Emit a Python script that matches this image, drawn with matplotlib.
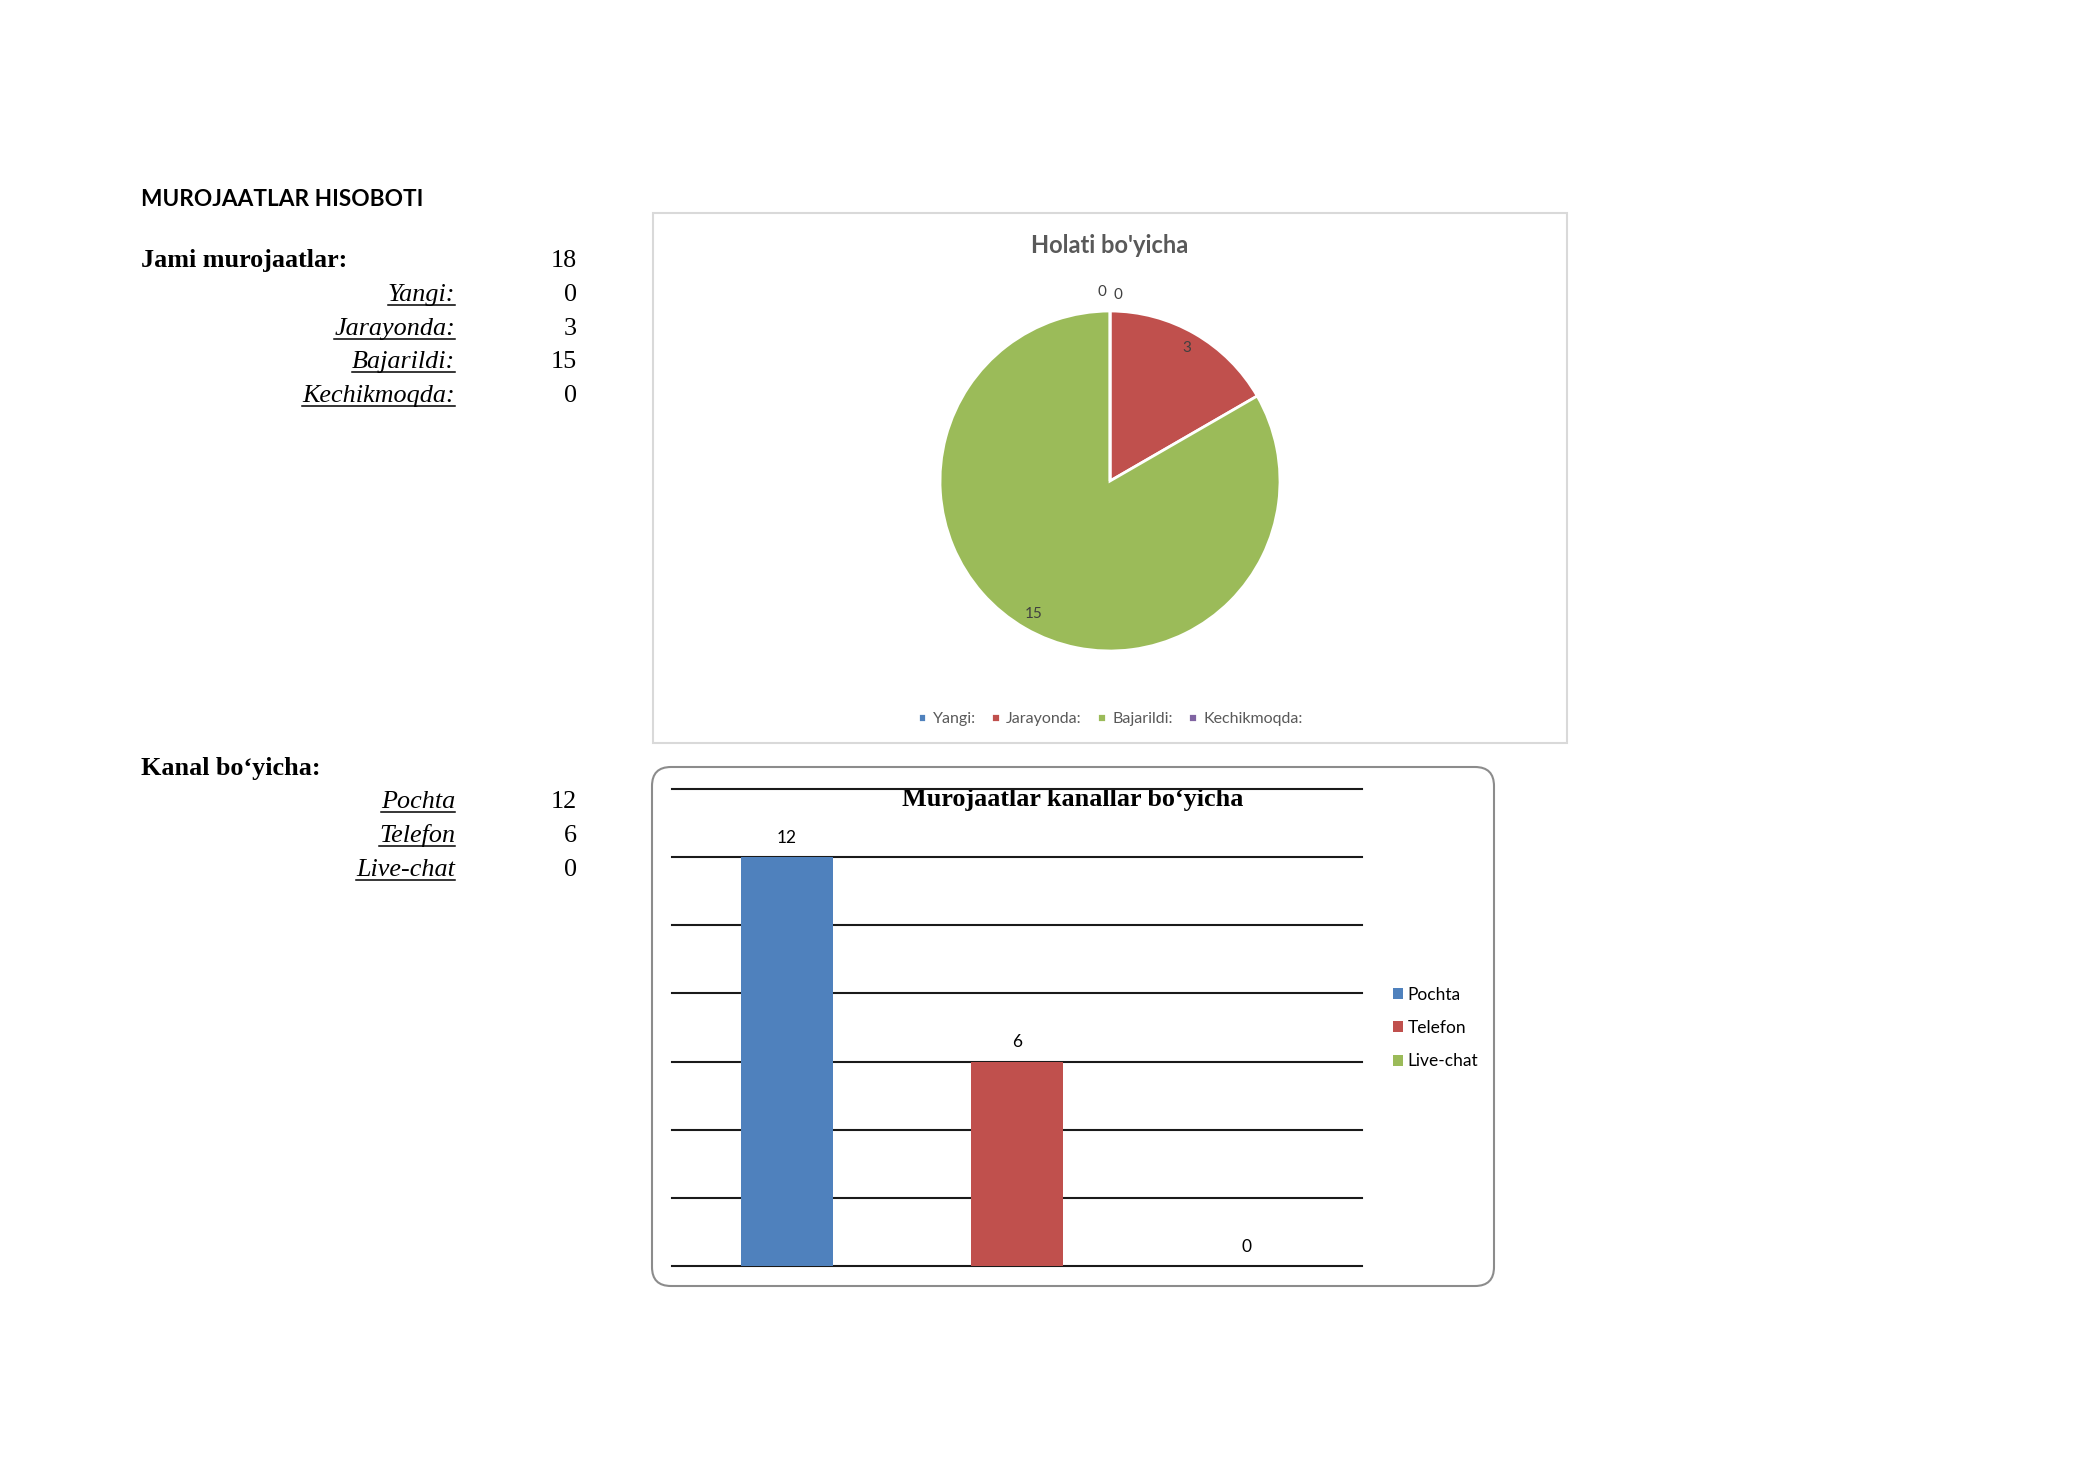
import numpy as np
import matplotlib.pyplot as plt
from matplotlib.patches import Rectangle, FancyBboxPatch

# report values
status_labels = ['Yangi:', 'Jarayonda:', 'Bajarildi:', 'Kechikmoqda:']
status_values = [0, 3, 15, 0]
status_colors = ['#4F81BD', '#C0504D', '#9BBB59', '#8064A2']
total = 18

channel_labels = ['Pochta', 'Telefon', 'Live-chat']
channel_values = [12, 6, 0]
channel_colors = ['#4F81BD', '#C0504D', '#9BBB59']

W, H = 2100, 1484
SERIF = 'Liberation Serif'
SANS = 'Lato'
FS = 18.8

fig = plt.figure(figsize=(W / 100, H / 100), dpi=100)

# page axes in pixel coordinates (y down)
page = fig.add_axes([0, 0, 1, 1], zorder=0)
page.set_xlim(0, W)
page.set_ylim(H, 0)
page.axis('off')


def fx(x):
    return x / W


def fy(y):
    return 1 - y / H


# left side text block
page.text(141, 206, 'MUROJAATLAR HISOBOTI', family=SANS, fontweight='bold',
          fontsize=16.3, va='baseline', ha='left')
page.text(141, 267, 'Jami murojaatlar:', family=SERIF, fontweight='bold',
          fontsize=FS, va='baseline', ha='left')
page.text(577, 267, str(total), family=SERIF, fontsize=FS, va='baseline', ha='right')

underlined = []
rows_y = [301, 335, 368, 402]
for lab, val, y in zip(status_labels, status_values, rows_y):
    t = page.text(455, y, lab, family=SERIF, style='italic', fontsize=FS,
                  va='baseline', ha='right')
    underlined.append((t, y))
    page.text(577, y, str(val), family=SERIF, fontsize=FS, va='baseline', ha='right')

page.text(141, 775, 'Kanal bo\u2018yicha:', family=SERIF, fontweight='bold',
          fontsize=FS, va='baseline', ha='left')
rows_y = [808, 842, 876]
for lab, val, y in zip(channel_labels, channel_values, rows_y):
    t = page.text(455, y, lab, family=SERIF, style='italic', fontsize=FS,
                  va='baseline', ha='right')
    underlined.append((t, y))
    page.text(577, y, str(val), family=SERIF, fontsize=FS, va='baseline', ha='right')

# chart frames
page.add_patch(Rectangle((653, 213), 914, 530, fill=False, edgecolor='#D9D9D9', lw=1.5))
page.add_patch(FancyBboxPatch((652, 767), 842, 519, boxstyle='round,pad=0,rounding_size=19',
                              fill=False, edgecolor='#8C8C8C', lw=1.5))

# pie chart
cx, cy, r = 1110, 481, 170
pax = fig.add_axes([fx(cx - r), fy(cy + r), 2 * r / W, 2 * r / H], zorder=2)
wedges, _ = pax.pie(status_values, colors=status_colors, startangle=90, counterclock=False,
                    wedgeprops=dict(edgecolor='white', linewidth=2))
pax.set_xlim(-1, 1)
pax.set_ylim(-1, 1)
pax.set_aspect('equal')
pax.axis('off')

for i, (w, v) in enumerate(zip(wedges, status_values)):
    mid = np.deg2rad((w.theta1 + w.theta2) / 2)
    if v == 0:
        # zero slices sit at the top, pushed to either side
        if i == 0:
            pax.text(-0.024, 1.11, str(v), ha='right', va='center', fontsize=11,
                     family=SANS, color='#404040')
        else:
            pax.text(0.018, 1.094, str(v), ha='left', va='center', fontsize=11,
                     family=SANS, color='#404040')
    else:
        pax.text(0.9 * np.cos(mid), 0.9 * np.sin(mid), str(v), ha='center', va='center',
                 fontsize=11, family=SANS, color='#404040')

page.text(1110, 253, "Holati bo'yicha", family=SANS, fontweight='bold', fontsize=17,
          color='#595959', ha='center', va='baseline')
fig.legend(wedges, status_labels, loc='center', bbox_to_anchor=(fx(1110), fy(719)), ncol=4,
           frameon=False, prop=dict(family=SANS, size=11.5), labelcolor='#595959',
           handlelength=0.55, handleheight=0.55, handletextpad=0.4, columnspacing=0.95)

# bar chart
bax = fig.add_axes([fx(672), fy(1266), (1362 - 672) / W, (1266 - 789) / H], zorder=2)
x = np.arange(len(channel_values))
bars = bax.bar(x, channel_values, width=0.4, color=channel_colors, zorder=3)
bax.set_xlim(-0.5, 2.5)
bax.set_ylim(0, 14)
bax.set_yticks(np.arange(0, 15, 2))
bax.set_xticks([])
bax.tick_params(axis='y', length=0, labelleft=False)
bax.grid(axis='y', color='#1A1A1A', linewidth=1.5, zorder=1)
for gl in bax.get_ygridlines():
    gl.set_clip_on(False)
for s in bax.spines.values():
    s.set_visible(False)
bax.set_facecolor('none')
bax.bar_label(bars, padding=8, fontsize=12.5, family=SANS)

page.text(1073, 806, 'Murojaatlar kanallar bo\u2018yicha', family=SERIF, fontweight='bold',
          fontsize=18.8, ha='center', va='baseline', zorder=5)
fig.legend(bars, channel_labels, loc='center left', bbox_to_anchor=(fx(1393), fy(1028)),
           frameon=False, prop=dict(family=SANS, size=12.5), handlelength=0.6, handleheight=0.6,
           handletextpad=0.25, labelspacing=1.0, borderpad=0, borderaxespad=0)

# underline the italic labels
fig.canvas.draw()
ren = fig.canvas.get_renderer()
for t, y in underlined:
    bb = t.get_window_extent(ren)
    page.plot([bb.x0, bb.x1], [y + 4, y + 4], color='black', lw=1.1)

fig.savefig('out.png', dpi=100)
